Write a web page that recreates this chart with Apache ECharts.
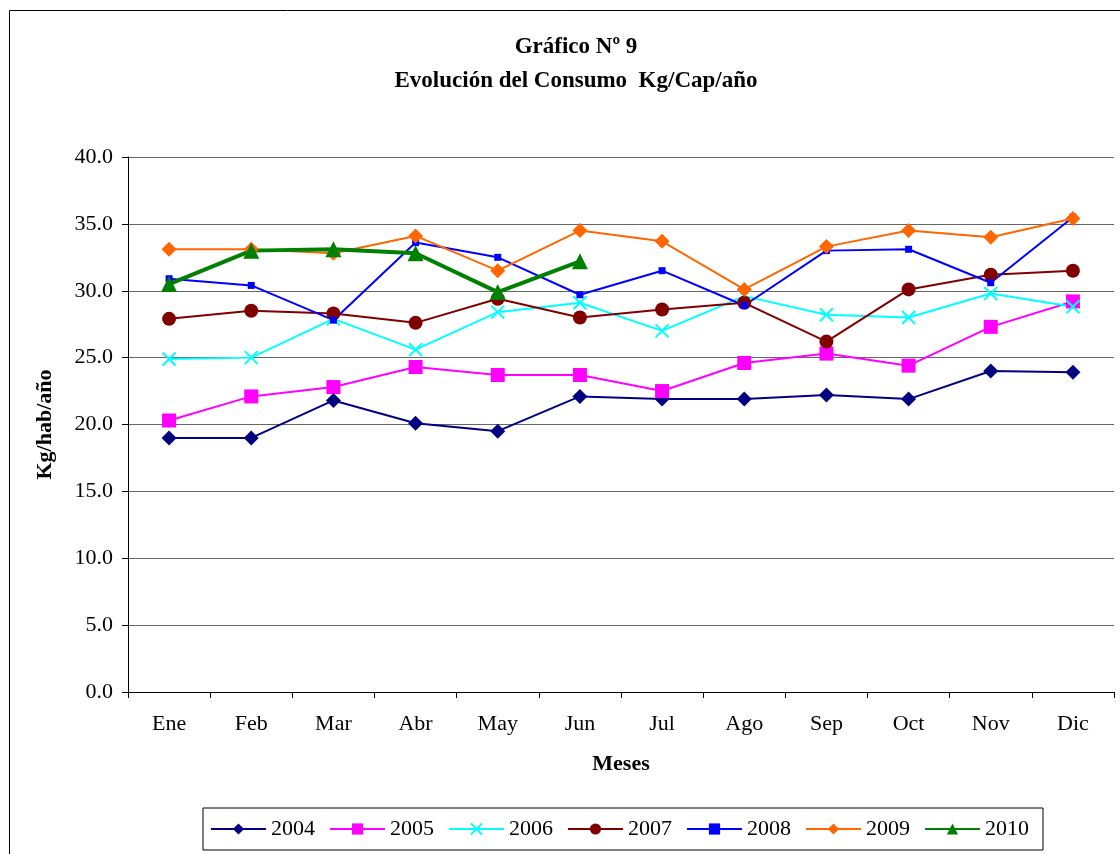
<!DOCTYPE html>
<html><head><meta charset="utf-8">
<script src="https://cdn.jsdelivr.net/npm/echarts@6/dist/echarts.min.js"></script>
<style>html,body{margin:0;padding:0;background:#fff}#c{width:1120px;height:854px}</style>
</head><body><div id="c"></div>
<script>
const months = ['Ene','Feb','Mar','Abr','May','Jun','Jul','Ago','Sep','Oct','Nov','Dic'];
const yTicks = [0,5,10,15,20,25,30,35,40];
const s2004 = [19.0,19.0,21.8,20.1,19.5,22.1,21.9,21.9,22.2,21.9,24.0,23.9];
const s2005 = [20.3,22.1,22.8,24.3,23.7,23.7,22.5,24.6,25.3,24.4,27.3,29.2];
const s2006 = [24.9,25.0,27.9,25.6,28.4,29.1,27.0,29.6,28.2,28.0,29.8,28.8];
const s2007 = [27.9,28.5,28.3,27.6,29.4,28.0,28.6,29.1,26.2,30.1,31.2,31.5];
const s2008 = [30.9,30.4,27.8,33.6,32.5,29.7,31.5,28.9,33.0,33.1,30.6,35.5];
const s2009 = [33.1,33.1,32.8,34.1,31.5,34.5,33.7,30.1,33.3,34.5,34.0,35.4];
const s2010 = [30.5,33.0,33.1,32.8,29.9,32.2];

const FONT = '"Liberation Serif","Times New Roman",serif';
const xPath = 'path://M0,0L10,10M10,0L0,10';
function mk(name, data, color, symbol, size, width, extra) {
  return Object.assign({
    name, type:'line', data, symbol, symbolSize:size,
    lineStyle:{color, width}, itemStyle:{color},
    emphasis:{disabled:true}, animation:false
  }, extra||{});
}
const chart = echarts.init(document.getElementById('c'), null, {renderer:'canvas'});
chart.setOption({
  animation:false,
  textStyle:{fontFamily:FONT},
  graphic:[{type:'rect', shape:{x:9.5,y:10.5,width:1200,height:900}, style:{fill:'none',stroke:'#000',lineWidth:1}, silent:true}],
  title:[
    {text:'Gráfico Nº 9', left:571, top:31, textAlign:'center', textStyle:{fontFamily:FONT,fontSize:23,fontWeight:'bold',color:'#000'}},
    {text:'Evolución del Consumo  Kg/Cap/año', left:571, top:65, textAlign:'center', textStyle:{fontFamily:FONT,fontSize:23,fontWeight:'bold',color:'#000'}}
  ],
  grid:{left:128, right:6, top:157, bottom:162, containLabel:false},
  xAxis:{
    type:'category', data:months, boundaryGap:true,
    name:'Meses', nameLocation:'middle', nameGap:61,
    nameTextStyle:{fontFamily:FONT,fontSize:22,fontWeight:'bold',color:'#000'},
    axisLine:{lineStyle:{color:'#000',width:1}},
    axisTick:{show:true,length:6,lineStyle:{color:'#000'}},
    axisLabel:{fontFamily:FONT,fontSize:22,color:'#000',margin:21},
    splitLine:{show:false}
  },
  yAxis:{
    type:'value', min:0, max:40, interval:5,
    name:'Kg/hab/año', nameLocation:'middle', nameGap:72, nameRotate:90,
    nameTextStyle:{fontFamily:FONT,fontSize:22,fontWeight:'bold',color:'#000'},
    axisLine:{show:true,lineStyle:{color:'#000',width:1}},
    axisTick:{show:true,length:6,lineStyle:{color:'#000'}},
    axisLabel:{fontFamily:FONT,fontSize:22,color:'#000',margin:15,formatter:v=>v.toFixed(1)},
    splitLine:{show:true,lineStyle:{color:'#666',width:1}}
  },
  legend:{
    left:203, top:808,
    borderColor:'#000', borderWidth:1, padding:[10,14,10,7],
    itemWidth:55, itemHeight:14, itemGap:14,
    textStyle:{fontFamily:FONT,fontSize:22,color:'#000'},
    data:['2004','2005','2006','2007','2008','2009','2010']
  },
  series:[
    mk('2004', s2004, '#000080', 'diamond', 15, 2),
    mk('2005', s2005, '#FF00FF', 'rect', 14, 2),
    mk('2006', s2006, '#00FFFF', xPath, 13, 2, {itemStyle:{color:'#00FFFF',borderColor:'#00FFFF',borderWidth:2}}),
    mk('2007', s2007, '#800000', 'circle', 14, 2),
    mk('2008', s2008, '#0000FF', 'rect', 7, 2),
    mk('2009', s2009, '#FF6600', 'diamond', 15, 2),
    mk('2010', s2010, '#008000', 'triangle', 16, 4)
  ]
});
</script></body></html>
